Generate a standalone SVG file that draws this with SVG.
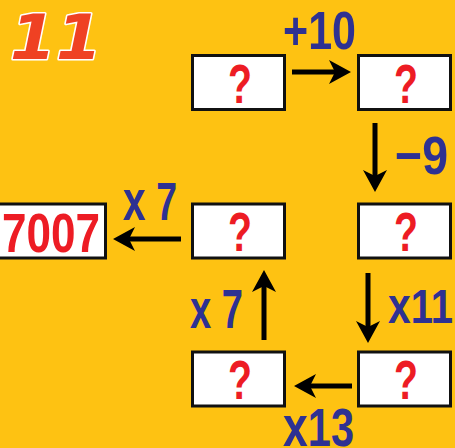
<svg xmlns="http://www.w3.org/2000/svg" width="455" height="448" viewBox="0 0 455 448">
<defs>
<style>
.box{fill:#fff;stroke:#111;stroke-width:3}
.q{font-family:"Liberation Sans",Arial,sans-serif;font-weight:bold;font-size:56px;fill:#ed1c24}
.lbl{font-family:"Liberation Sans",Arial,sans-serif;font-weight:bold;fill:#2e3192}
.res{font-family:"Liberation Sans",Arial,sans-serif;font-weight:bold;font-size:56px;fill:#ed1c24}
.title{font-family:"DejaVu Sans",sans-serif;font-weight:bold;font-style:italic;font-size:63px;fill:#ef4123;stroke:#fff;stroke-width:3;paint-order:stroke;stroke-linejoin:round}
.arr{stroke:#000;stroke-width:5;fill:none;marker-end:url(#head)}
</style>
<marker id="head" markerUnits="userSpaceOnUse" viewBox="0 0 22 24" markerWidth="22" markerHeight="24" refX="8" refY="12" orient="auto">
<path d="M0,0 L22,12 L0,24 L6,12 Z" fill="#000"/>
</marker>
</defs>
<rect width="455" height="448" fill="#fec212"/>
<text class="title" x="10" y="59" textLength="92" lengthAdjust="spacingAndGlyphs">11</text>

<g id="connectors">
<line class="arr" x1="292" y1="72" x2="337" y2="72"/>
<line class="arr" x1="375" y1="123" x2="375" y2="178"/>
<line class="arr" x1="368" y1="273" x2="368" y2="329"/>
<line class="arr" x1="352" y1="386" x2="308" y2="386"/>
<line class="arr" x1="264" y1="340" x2="264" y2="284"/>
<line class="arr" x1="181" y1="239" x2="127" y2="239"/>
<text class="lbl" x="283" y="49" font-size="54" textLength="73" lengthAdjust="spacingAndGlyphs">+10</text>
<text class="lbl" x="395" y="174" font-size="54" textLength="53" lengthAdjust="spacingAndGlyphs">−9</text>
<text class="lbl" x="388" y="323" font-size="49" textLength="65" lengthAdjust="spacingAndGlyphs"><tspan font-size="50">x</tspan>11</text>
<text class="lbl" x="283" y="446" font-size="53" textLength="71" lengthAdjust="spacingAndGlyphs"><tspan font-size="57">x</tspan>13</text>
<text class="lbl" x="190" y="328" font-size="56" textLength="53" lengthAdjust="spacingAndGlyphs"><tspan font-size="56">x</tspan> 7</text>
<text class="lbl" x="123" y="220" font-size="53" textLength="54" lengthAdjust="spacingAndGlyphs"><tspan font-size="58">x</tspan> 7</text>
</g>

<g id="n1"><rect class="box" x="192.5" y="55.5" width="92" height="54"/><text class="q" x="228" y="103" textLength="24" lengthAdjust="spacingAndGlyphs">?</text></g>
<g id="n2"><rect class="box" x="358.5" y="55.5" width="92" height="54"/><text class="q" x="394" y="103" textLength="24" lengthAdjust="spacingAndGlyphs">?</text></g>
<g id="n3"><rect class="box" x="358.5" y="204" width="92" height="54"/><text class="q" x="394" y="251" textLength="24" lengthAdjust="spacingAndGlyphs">?</text></g>
<g id="n4"><rect class="box" x="192.5" y="204" width="92" height="54"/><text class="q" x="228" y="251" textLength="24" lengthAdjust="spacingAndGlyphs">?</text></g>
<g id="n5"><rect class="box" x="-1.5" y="204" width="107" height="54"/><text class="res" x="2" y="252" textLength="98" lengthAdjust="spacingAndGlyphs">7007</text></g>
<g id="n6"><rect class="box" x="192.5" y="352" width="92" height="54"/><text class="q" x="228" y="399" textLength="24" lengthAdjust="spacingAndGlyphs">?</text></g>
<g id="n7"><rect class="box" x="358.5" y="352" width="92" height="54"/><text class="q" x="394" y="399" textLength="24" lengthAdjust="spacingAndGlyphs">?</text></g>
</svg>
